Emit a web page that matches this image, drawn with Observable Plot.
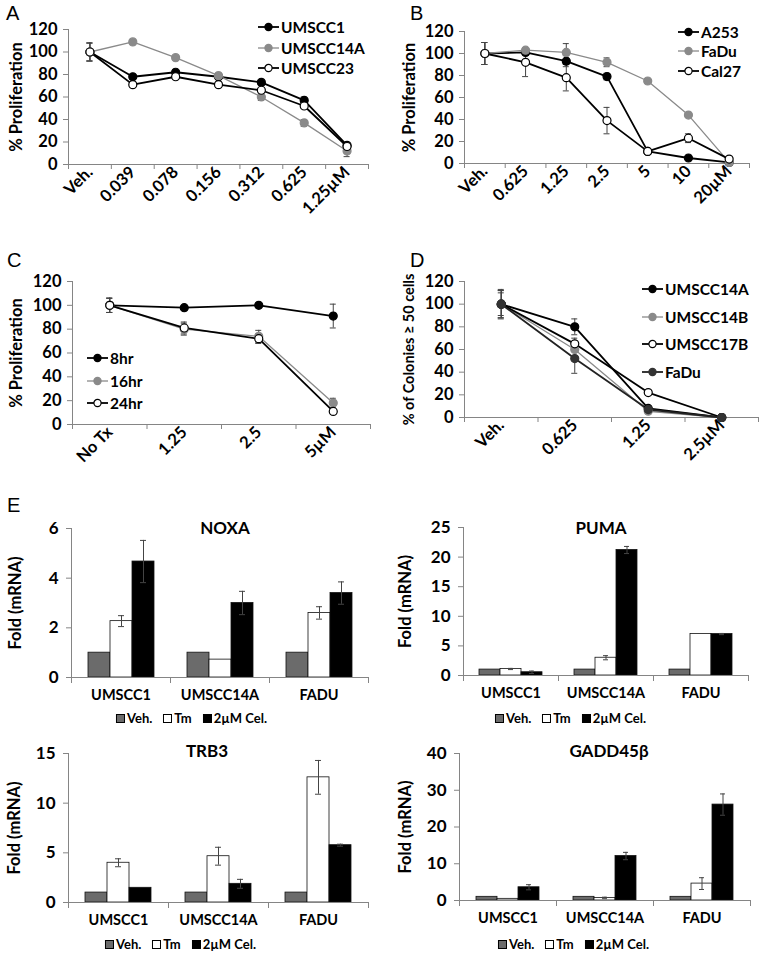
<!DOCTYPE html>
<html><head><meta charset="utf-8">
<script src="https://cdn.jsdelivr.net/npm/d3@7"></script>
<script src="https://cdn.jsdelivr.net/npm/@observablehq/plot@0.6"></script>
<style>
body{margin:0;background:#fff;}
#fig{position:relative;width:762px;height:956px;font-family:Lato,sans-serif;font-weight:bold;color:#000;overflow:hidden;background:#fff}
.panel{position:absolute}
.letter{position:absolute;font-family:"Liberation Sans",Arial,sans-serif;font-weight:normal;font-size:20px;line-height:20px}
.title{position:absolute;font-size:17px;transform:translate(-50%,-50%);white-space:nowrap}
.lleg{position:absolute;font-size:15.5px}
.lleg .row{display:flex;align-items:center;white-space:nowrap}
.bleg{position:absolute;font-size:13px;display:flex;align-items:center;transform:translate(-50%,-50%);white-space:nowrap}
.bleg span.sw{display:inline-block;width:9px;height:9px;border:1px solid #000;box-sizing:border-box;margin-right:2px}
.bleg span.it{display:flex;align-items:center;margin-right:11px}
</style></head><body><div id="fig"></div><script>
// ---------- DATA ----------
// Panel A
const catsA = ["Veh.","0.039","0.078","0.156","0.312","0.625","1.25µM"];
const namesA = ["UMSCC1","UMSCC14A","UMSCC23"];
const umscc1A = [100,78,82,78,73,57,17];
const umscc1AErr = [8,2,2,2,2,3,2];
const umscc14aA = [100,109,95,79,60,37,12];
const umscc14aAErr = [8,1,1,2,3,3,5];
const umscc23A = [100,71,78,71,66,52,16];
const umscc23AErr = [8,2,2,2,2,2,2];
// Panel B
const catsB = ["Veh.","0.625","1.25","2.5","5","10","20µM"];
const namesB = ["A253","FaDu","Cal27"];
const a253B = [100,101,93,79,11,5,1];
const a253BErr = [10,2,5,3,1,1,1];
const faduB = [100,103,101,92,75,44,1];
const faduBErr = [10,2,8,4,2,2,1];
const cal27B = [100,92,78,39,11,23,4];
const cal27BErr = [10,13,12,12,2,4,2];
// Panel C
const catsC = ["No Tx","1.25","2.5","5µM"];
const namesC = ["8hr","16hr","24hr"];
const h8C = [100,98,100,91];
const h8CErr = [6,1,1,10];
const h16C = [100,80,74,18];
const h16CErr = [6,5,5,4];
const h24C = [100,81,72,11];
const h24CErr = [6,5,4,1];
// Panel D
const catsD = ["Veh.","0.625","1.25","2.5µM"];
const namesD = ["UMSCC14A","UMSCC14B","UMSCC17B","FaDu"];
const u14aD = [100,80,8,0];
const u14aDErr = [13,7,1,0];
const u14bD = [100,60,5.5,0];
const u14bDErr = [12,6,1,0];
const u17bD = [100,65,22,0];
const u17bDErr = [10,5,1,0];
const faduD = [100,52,7,0];
const faduDErr = [12,13,1,0];
const yTicksPct = [0,20,40,60,80,100,120];
// Panel E
const groupsE = ["UMSCC1","UMSCC14A","FADU"];
const treatments = ["Veh.","Tm","2µM Cel."];
const noxaVeh = [1,1,1], noxaTm = [2.27,0.72,2.6], noxaCel = [4.67,3.0,3.4];
const noxaTmErr = [0.22,0,0.25], noxaCelErr = [0.85,0.47,0.45];
const pumaVeh = [1,1,1], pumaTm = [1.1,3.0,7.0], pumaCel = [0.55,21.2,7.0];
const pumaTmErr = [0.1,0.35,0], pumaCelErr = [0.2,0.6,0.1];
const trb3Veh = [1,1,1], trb3Tm = [4.0,4.66,12.6], trb3Cel = [1.48,1.88,5.77];
const trb3TmErr = [0.4,0.9,1.7], trb3CelErr = [0,0.45,0.1];
const gaddVeh = [1,1,1], gaddTm = [0.45,0.7,4.6], gaddCel = [3.6,12.1,26.1];
const gaddTmErr = [0,0.2,1.6], gaddCelErr = [0.7,1.0,2.9];
const vehErr = [0,0,0];

// ---------- STYLE ----------
const AX = "#858585";
const ERR = "#444";
const GRAY = "#8a8a8a";
const barColors = ["#6b6b6b","#ffffff","#000000"];
const fig = document.getElementById("fig");
const baseStyle = {fontFamily:"Lato, sans-serif", fontWeight:"bold", fontSize:"16.5px", color:"black", background:"transparent", overflow:"visible"};

function place(node, left, top){
  const d = document.createElement("div");
  d.className = "panel"; d.style.left = left+"px"; d.style.top = top+"px";
  d.appendChild(node); fig.appendChild(d);
}
function addDiv(cls, html, left, top){
  const d = document.createElement("div");
  d.className = cls; d.innerHTML = html;
  d.style.left = left+"px"; d.style.top = top+"px";
  fig.appendChild(d); return d;
}

function linePanel(o){
  const n = o.cats.length;
  const marks = [
    Plot.frame({anchor:"left", stroke:AX}),
    Plot.frame({anchor:"bottom", stroke:AX}),
    Plot.axisY({ticks:yTicksPct, tickSize:5, tickPadding:6, stroke:AX, label:null}),
    Plot.axisY({ticks:[], label:o.yLabel, labelAnchor:"center", labelOffset:o.labelOffset, labelArrow:"none", fontSize:o.labelSize||16.5}),
    Plot.axisX({ticks:d3.range(n+1).map(i=>i-0.5), tickFormat:()=>"", tickSize:5, stroke:AX, label:null}),
    Plot.axisX({ticks:d3.range(n), tickFormat:i=>o.cats[i], tickSize:0, tickPadding:5, tickRotate:-45, label:null})
  ];
  for (const s of o.series){
    const d = s.values.map((v,i)=>({i, v, e:s.errs[i]}));
    const de = d.filter(r=>r.e>0);
    marks.push(Plot.ruleX(de, {x:"i", y1:r=>r.v-r.e, y2:r=>r.v+r.e, stroke:ERR, strokeWidth:1}));
    marks.push(Plot.ruleY(de, {y:r=>r.v+r.e, x1:"i", x2:"i", insetLeft:-3, insetRight:-3, stroke:ERR}));
    marks.push(Plot.ruleY(de, {y:r=>r.v-r.e, x1:"i", x2:"i", insetLeft:-3, insetRight:-3, stroke:ERR}));
  }
  for (const s of o.series){
    const d = s.values.map((v,i)=>({i, v}));
    marks.push(Plot.line(d, {x:"i", y:"v", stroke:s.line, strokeWidth:s.lw}));
  }
  for (const s of o.series){
    const d = s.values.map((v,i)=>({i, v}));
    marks.push(Plot.dot(d, {x:"i", y:"v", r:4, fill:s.fill, stroke:s.stroke, strokeWidth:1.2}));
  }
  const p = Plot.plot({
    width:o.w, height:o.h, marginLeft:o.ml, marginRight:o.mr, marginTop:o.mt, marginBottom:o.mb,
    x:{domain:[-0.5, n-0.5], axis:null},
    y:{domain:[0,120], axis:null},
    style:baseStyle,
    marks
  });
  place(p, o.left, o.top);
  const rows = o.series.map(s=>`<div class="row" style="height:${o.legGap}px"><svg width="21" height="10" style="margin-right:2px"><line x1="0" x2="21" y1="5" y2="5" stroke="${s.line}" stroke-width="${s.lw}"/><circle cx="10.5" cy="5" r="3.6" fill="${s.fill}" stroke="${s.stroke}" stroke-width="1.2"/></svg>${s.name}</div>`).join("");
  addDiv("lleg", rows, o.legLeft, o.legTop);
}

function barPanel(o){
  const vals = [o.veh, o.tm, o.cel], errs = [vehErr, o.tmErr, o.celErr];
  const rows = o.groups.flatMap((g,gi)=>treatments.map((t,ti)=>({g, t, v:vals[ti][gi], e:errs[ti][gi]})));
  const re = rows.filter(r=>r.e>0);
  const plotH = o.h - o.mt - o.mb;
  const p = Plot.plot({
    width:o.w, height:o.h, marginLeft:o.ml, marginRight:o.mr, marginTop:o.mt, marginBottom:o.mb,
    fx:{domain:o.groups, padding:0, label:null},
    x:{domain:treatments, paddingInner:0, paddingOuter:0.75, axis:null},
    y:{domain:[0,o.yMax], axis:null},
    color:{domain:treatments, range:barColors},
    style:baseStyle,
    marks:[
      Plot.frame({anchor:"left", facet:"super", stroke:AX}),
      Plot.frame({anchor:"left", insetTop:plotH, insetBottom:-5, stroke:AX}),
      Plot.frame({anchor:"right", insetTop:plotH, insetBottom:-5, stroke:AX}),
      Plot.axisY({ticks:o.yTicks, tickFormat:d=>String(d), tickSize:5, tickPadding:8, stroke:AX, label:null, fontSize:17}),
      Plot.axisY({ticks:[], label:"Fold (mRNA)", labelAnchor:"center", labelOffset:o.labelOffset, labelArrow:"none", fontSize:16.5}),
      Plot.axisFx({anchor:"bottom", tickSize:0, tickPadding:12, label:null, fontSize:14.5}),
      Plot.barY(rows, {fx:"g", x:"t", y:"v", fill:"t", stroke:"#111", strokeWidth:0.8}),
      Plot.ruleY([0], {stroke:AX}),
      Plot.ruleX(re, {fx:"g", x:"t", y1:r=>r.v-r.e, y2:r=>r.v+r.e, stroke:ERR}),
      Plot.tickY(re, {fx:"g", x:"t", y:r=>r.v+r.e, insetLeft:8, insetRight:8, stroke:ERR}),
      Plot.tickY(re, {fx:"g", x:"t", y:r=>r.v-r.e, insetLeft:8, insetRight:8, stroke:ERR})
    ]
  });
  place(p, o.left, o.top);
  addDiv("title", o.title, o.titleX, o.titleY);
  const items = treatments.map((t,i)=>`<span class="it"><span class="sw" style="background:${barColors[i]}"></span>${t}</span>`).join("");
  addDiv("bleg", items, o.legX, o.legY);
}

// ---------- PANELS ----------
const black = {fill:"#000", stroke:"#000", line:"#000", lw:1.8};
const gray = {fill:GRAY, stroke:GRAY, line:GRAY, lw:1.3};
const white = {fill:"#fff", stroke:"#000", line:"#000", lw:1.8};
const dark = {fill:"#333", stroke:"#333", line:"#222", lw:1.8};

linePanel({cats:catsA, yLabel:"% Proliferation", labelOffset:58,
  series:[
    {name:namesA[0], values:umscc1A, errs:umscc1AErr, ...black},
    {name:namesA[1], values:umscc14aA, errs:umscc14aAErr, ...gray},
    {name:namesA[2], values:umscc23A, errs:umscc23AErr, ...white}],
  left:0, top:0, w:381, h:220, ml:68, mr:13, mt:29, mb:56,
  legLeft:258, legTop:17, legGap:20.5});

linePanel({cats:catsB, yLabel:"% Proliferation", labelOffset:61,
  series:[
    {name:namesB[0], values:a253B, errs:a253BErr, ...black},
    {name:namesB[1], values:faduB, errs:faduBErr, ...gray},
    {name:namesB[2], values:cal27B, errs:cal27BErr, ...white}],
  left:381, top:0, w:381, h:220, ml:83, mr:13, mt:31, mb:57,
  legLeft:678, legTop:22, legGap:19.5});

linePanel({cats:catsC, yLabel:"% Proliferation", labelOffset:62,
  series:[
    {name:namesC[0], values:h8C, errs:h8CErr, ...black},
    {name:namesC[1], values:h16C, errs:h16CErr, ...gray},
    {name:namesC[2], values:h24C, errs:h24CErr, ...white}],
  left:0, top:220, w:381, h:250, ml:72, mr:11, mt:61, mb:46,
  legLeft:87, legTop:347, legGap:22.5});

linePanel({cats:catsD, yLabel:"% of Colonies ≥ 50 cells", labelOffset:61, labelSize:14.5,
  series:[
    {name:namesD[0], values:u14aD, errs:u14aDErr, ...black},
    {name:namesD[1], values:u14bD, errs:u14bDErr, ...gray},
    {name:namesD[2], values:u17bD, errs:u17bDErr, ...white},
    {name:namesD[3], values:faduD, errs:faduDErr, ...dark}],
  left:381, top:220, w:381, h:250, ml:83, mr:4, mt:61, mb:53,
  legLeft:642, legTop:275, legGap:27.7});

barPanel({title:"NOXA", groups:groupsE, veh:noxaVeh, tm:noxaTm, cel:noxaCel, tmErr:noxaTmErr, celErr:noxaCelErr,
  yMax:6, yTicks:[0,2,4,6], labelOffset:62,
  left:0, top:470, w:381, h:250, ml:70, mr:13, mt:58, mb:43,
  titleX:225, titleY:527, legX:197, legY:718});

barPanel({title:"PUMA", groups:groupsE, veh:pumaVeh, tm:pumaTm, cel:pumaCel, tmErr:pumaTmErr, celErr:pumaCelErr,
  yMax:25, yTicks:[0,5,10,15,20,25], labelOffset:64,
  left:381, top:470, w:381, h:250, ml:82, mr:14, mt:57, mb:45,
  titleX:601, titleY:527, legX:576, legY:718});

barPanel({title:"TRB3", groups:groupsE, veh:trb3Veh, tm:trb3Tm, cel:trb3Cel, tmErr:trb3TmErr, celErr:trb3CelErr,
  yMax:15, yTicks:[0,5,10,15], labelOffset:60,
  left:0, top:720, w:381, h:236, ml:68, mr:13, mt:33, mb:54,
  titleX:207, titleY:750, legX:186, legY:944});

barPanel({title:"GADD45β", groups:groupsE, veh:gaddVeh, tm:gaddTm, cel:gaddCel, tmErr:gaddTmErr, celErr:gaddCelErr,
  yMax:40, yTicks:[0,10,20,30,40], labelOffset:60,
  left:381, top:720, w:381, h:236, ml:78, mr:12, mt:33, mb:56,
  titleX:609, titleY:750, legX:579, legY:944});

// panel letters
addDiv("letter","A",6,3);
addDiv("letter","B",410,3);
addDiv("letter","C",7,249.5);
addDiv("letter","D",410,249.5);
addDiv("letter","E",7,494.5);
</script></body></html>
